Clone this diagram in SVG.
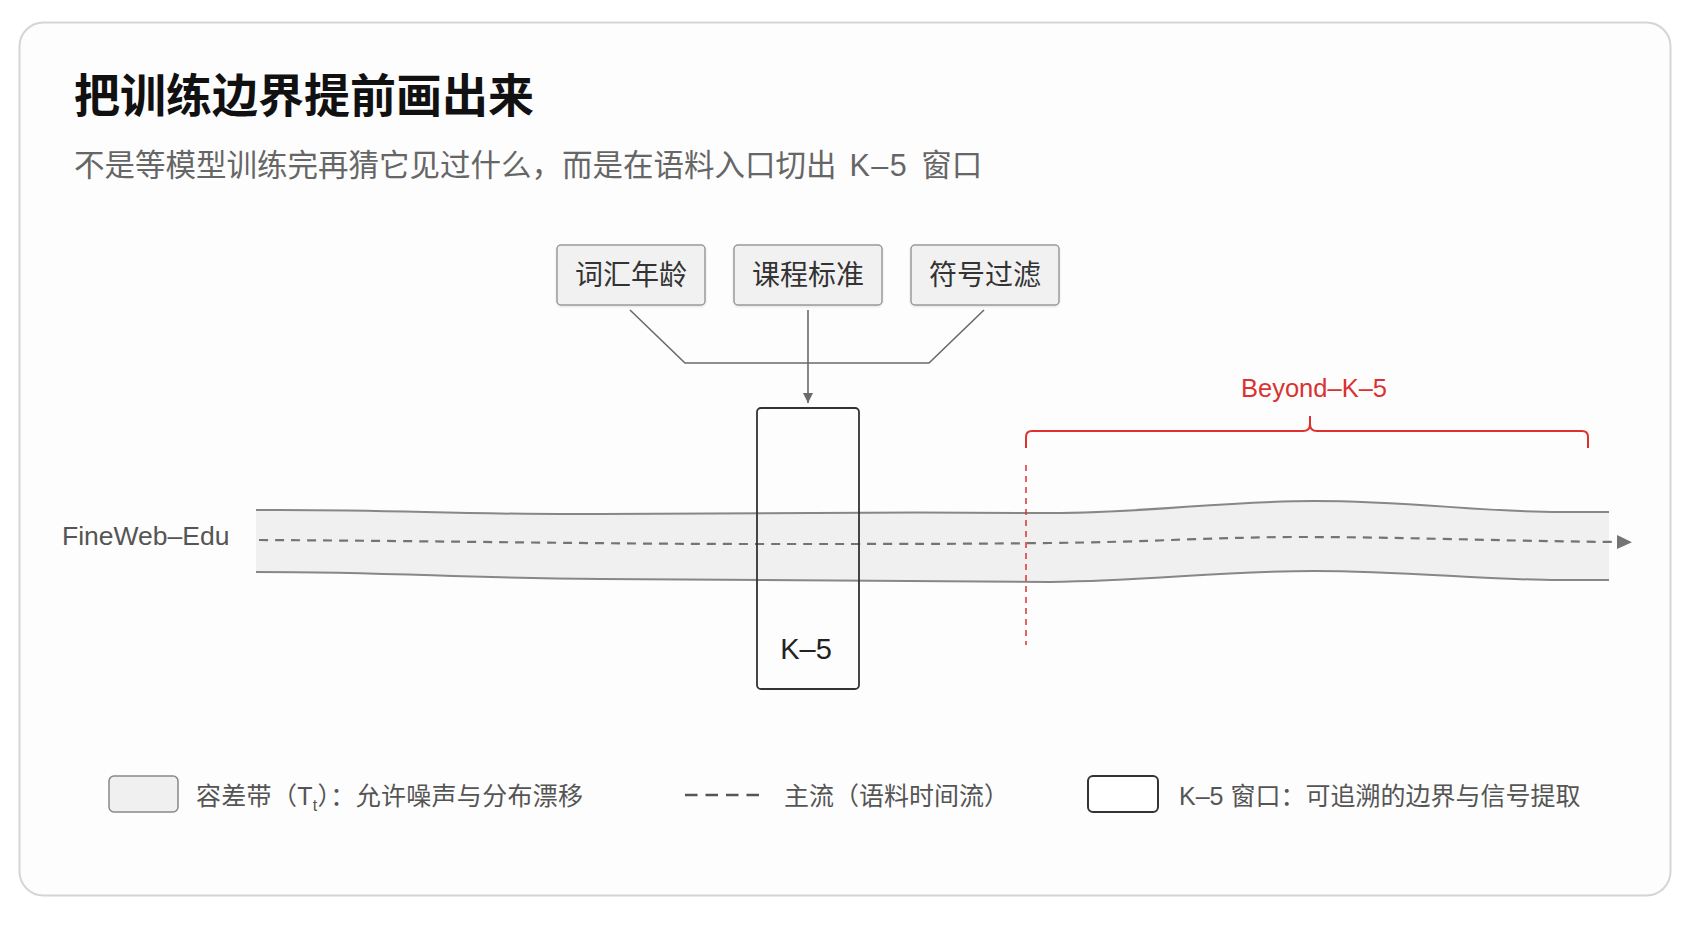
<svg xmlns="http://www.w3.org/2000/svg" width="1693" height="929" viewBox="0 0 1693 929">
  <defs>
    <style>
      .t { font-family: "Liberation Sans", "Noto Sans CJK SC", sans-serif; }
      .title { font-size: 46px; font-weight: 700; fill: #111; }
      .sub { font-size: 30.5px; fill: #666; }
      .node rect { fill: #f1f1f1; stroke: #9a9a9a; stroke-width: 1.5; }
      .node text { font-size: 28px; fill: #333; text-anchor: middle; }
      .edge { fill: none; stroke: #6a6a6a; stroke-width: 1.6; }
      .bandEdge { fill: none; stroke: #878787; stroke-width: 2; }
      .legend { font-size: 25px; fill: #555; }
      .red { stroke: #e0302e; fill: none; stroke-width: 2; }
    </style>
    <marker id="arrowMain" viewBox="0 0 15 14" refX="0" refY="7" markerWidth="15" markerHeight="14" markerUnits="userSpaceOnUse" orient="auto">
      <path d="M0,0 L15,7 L0,14 Z" fill="#747474"/>
    </marker>
    <marker id="arrowDown" viewBox="0 0 10 10" refX="10" refY="5" markerWidth="10" markerHeight="10" markerUnits="userSpaceOnUse" orient="auto">
      <path d="M0,0 L10,5 L0,10 Z" fill="#6a6a6a"/>
    </marker>
    <filter id="sh" x="-10%" y="-10%" width="120%" height="130%">
      <feDropShadow dx="0" dy="1" stdDeviation="1" flood-color="#000" flood-opacity="0.12"/>
    </filter>
  </defs>

  <rect x="0" y="0" width="1693" height="929" fill="#ffffff"/>
  <rect id="card" x="19.5" y="22.5" width="1651" height="873" rx="24" fill="#fdfdfd" stroke="#d5d5d5" stroke-width="2"/>

  <g id="heading">
    <text class="t title" x="74" y="112">把训练边界提前画出来</text>
    <text class="t sub" x="74" y="176">不是等模型训练完再猜它见过什么，而是在语料入口切出<tspan letter-spacing="1.5" word-spacing="3"> K–5 </tspan>窗口</text>
  </g>

  <g id="band">
    <path d="M256,510 C400,509 450,515 600,514 C750,513 900,512 1050,513 C1150,513 1220,501 1314,501 C1410,501 1480,512 1560,512 L1609,512 L1609,580 L1560,580 C1480,580 1410,571 1314,571 C1220,571 1150,581 1050,582 C900,581 750,580 600,579 C450,578 400,572 256,572 Z" fill="#f0f0f0"/>
    <path class="bandEdge" d="M256,510 C400,509 450,515 600,514 C750,513 900,512 1050,513 C1150,513 1220,501 1314,501 C1410,501 1480,512 1560,512 L1609,512"/>
    <path class="bandEdge" d="M256,572 C400,572 450,578 600,579 C750,580 900,581 1050,582 C1150,581 1220,571 1314,571 C1410,571 1480,580 1560,580 L1609,580"/>
    <text class="t" x="62" y="545" font-size="26.5" fill="#555">FineWeb–Edu</text>
  </g>

  <g id="connectors">
    <path d="M259,540 C450,541 600,544 760,544 C900,544 950,544 1050,543 C1150,542 1220,537 1300,537 C1400,537 1500,541 1617,542" fill="none" stroke="#747474" stroke-width="2.2" stroke-dasharray="9 7" marker-end="url(#arrowMain)"/>
    <path class="edge" d="M630,310 L685,363 L929,363 L984,310"/>
    <path class="edge" d="M808,310 L808,403" marker-end="url(#arrowDown)"/>
  </g>

  <g id="node-vocab" class="node">
    <rect x="557" y="245" width="148" height="60" rx="4" filter="url(#sh)"/>
    <text class="t" x="631" y="285">词汇年龄</text>
  </g>
  <g id="node-curriculum" class="node">
    <rect x="734" y="245" width="148" height="60" rx="4" filter="url(#sh)"/>
    <text class="t" x="808" y="285">课程标准</text>
  </g>
  <g id="node-symbol" class="node">
    <rect x="911" y="245" width="148" height="60" rx="4" filter="url(#sh)"/>
    <text class="t" x="985" y="285">符号过滤</text>
  </g>

  <g id="node-k5">
    <rect x="757" y="408" width="102" height="281" rx="4" fill="none" stroke="#333" stroke-width="1.8"/>
    <text class="t" x="806" y="659" font-size="29" fill="#222" text-anchor="middle">K–5</text>
  </g>

  <g id="beyond">
    <path class="red" d="M1026,448 L1026,437 Q1026,431 1032,431 L1303,431 Q1310,431 1310,424 L1310,416 M1310,424 Q1310,431 1317,431 L1582,431 Q1588,431 1588,437 L1588,448"/>
    <line x1="1026" y1="465" x2="1026" y2="645" stroke="#e0302e" stroke-width="1.5" stroke-dasharray="6 5"/>
    <text class="t" x="1314" y="397" font-size="25.5" fill="#d93230" text-anchor="middle">Beyond–K–5</text>
  </g>

  <g id="legend">
    <rect x="109" y="776" width="69" height="36" rx="5" fill="#f0f0f0" stroke="#888" stroke-width="1.5"/>
    <text class="t legend" x="196" y="805" letter-spacing="0.3">容差带（T<tspan font-size="16" dy="6">t</tspan><tspan dy="-6">）：允许噪声与分布漂移</tspan></text>
    <line x1="685" y1="795" x2="759" y2="795" stroke="#555" stroke-width="2.6" stroke-dasharray="12.5 8"/>
    <text class="t legend" x="784" y="805">主流（语料时间流）</text>
    <rect x="1088" y="776" width="70" height="36" rx="5" fill="#fff" stroke="#333" stroke-width="2"/>
    <text class="t legend" x="1179" y="805">K–5 窗口：可追溯的边界与信号提取</text>
  </g>
</svg>
